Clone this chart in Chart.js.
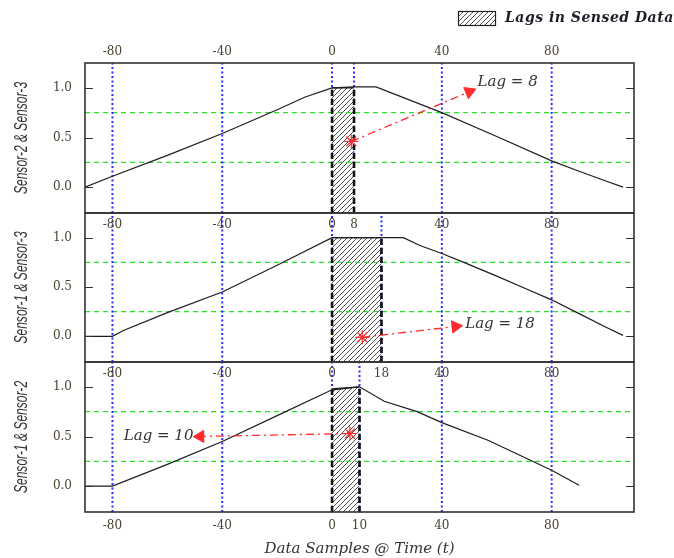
<!DOCTYPE html>
<html>
<head>
<meta charset="utf-8">
<script src="https://cdn.jsdelivr.net/npm/chart.js@4/dist/chart.umd.min.js"></script>
<style>
  html, body { margin: 0; padding: 0; background: #fff; }
  #wrap { position: relative; width: 674px; height: 558px; }
  #wrap canvas { position: absolute; left: 0; top: 0; }
</style>
</head>
<body>
<div id="wrap">
  <canvas id="p1" width="674" height="558"></canvas>
  <canvas id="p2" width="674" height="558"></canvas>
  <canvas id="p3" width="674" height="558"></canvas>
</div>
<script>
// Cross-correlation of sensor pairs against sample offset t
const t23 = [-90, -80, -60, -40, -20, -10, 0, 8, 16, 40, 60, 80, 90, 100, 106];
const r23 = [0.0, 0.11, 0.32, 0.54, 0.78, 0.905, 1.0, 1.01, 1.01, 0.75, 0.51, 0.265, 0.16, 0.06, 0.0];

const t13 = [-90, -80, -76, -60, -40, -20, 0, 18, 26, 32, 40, 48, 60, 70, 80, 90, 100, 106];
const r13 = [0.0, 0.0, 0.06, 0.24, 0.45, 0.72, 1.0, 1.0, 1.0, 0.92, 0.84, 0.75, 0.61, 0.49, 0.37, 0.23, 0.09, 0.01];

const t12 = [-90, -80, -60, -40, -20, 0, 10, 19, 31, 40, 57, 80, 90];
const r12 = [0.0, 0.0, 0.22, 0.45, 0.71, 0.97, 1.0, 0.855, 0.75, 0.64, 0.46, 0.16, 0.01];

const pairNames = ['Sensor-2 & Sensor-3', 'Sensor-1 & Sensor-3', 'Sensor-1 & Sensor-2'];
const lagValues = [8, 18, 10];

// top edge of the lag band (start, end)
const hatchTop23 = [1.0, 1.0];
const hatchTop13 = [1.0, 1.0];
const hatchTop12 = [0.98, 1.0];

// lag pointer: marker point -> arrow head, plus the label anchor
const markFrom23 = [7, 0.46],   markTo23 = [50, 0.96],  labelAt23 = [53, 1.055];
const markFrom13 = [11, -0.01], markTo13 = [45, 0.10],  labelAt13 = [48.5, 0.12];
const markFrom12 = [6.5, 0.53], markTo12 = [-48, 0.50], labelAt12 = [-50.5, 0.505];

const xGridTicks = [-80, -40, 0, 40, 80];
const yTickValues = [0, 0.5, 1.0];
const refLevels = [0.25, 0.75];
const xMin = -90, xMax = 110, yMin = -0.26, yMax = 1.25;

const legendText = 'Lags in Sensed Data';
const xTitle = 'Data Samples @ Time (t)';

const tickFontSpec = { family: "'DejaVu Serif', serif", size: 12 };
const tickColor = '#4a4232';

function pts(xs, ys) { return xs.map((x, i) => ({ x: x, y: ys[i] })); }
function verticals(xs) {
  const out = [];
  xs.forEach(x => out.push({ x: x, y: yMin }, { x: x, y: yMax }, { x: x, y: null }));
  return out;
}
function horizontals(levels) {
  const out = [];
  levels.forEach(v => out.push({ x: xMin, y: v }, { x: xMax, y: v }, { x: xMax, y: null }));
  return out;
}
function makeHatch(ctx) {
  const tile = document.createElement('canvas');
  tile.width = 5; tile.height = 5;
  const g = tile.getContext('2d');
  g.fillStyle = '#ffffff';
  g.fillRect(0, 0, 5, 5);
  g.strokeStyle = '#3a3a3a';
  g.lineWidth = 0.9;
  g.beginPath();
  g.moveTo(0, 5); g.lineTo(5, 0);
  g.moveTo(-1, 1); g.lineTo(1, -1);
  g.moveTo(4, 6); g.lineTo(6, 4);
  g.stroke();
  return ctx.createPattern(tile, 'repeat');
}

// frame, inward tick marks, in-panel tick row, pair title, lag label and legend
const framePlugin = {
  id: 'frame',
  afterDraw(chart, args, o) {
    const ctx = chart.ctx, a = chart.chartArea;
    const xs = chart.scales.x, ys = chart.scales.y;
    ctx.save();
    ctx.strokeStyle = '#333';
    ctx.lineWidth = 1.2;
    ctx.beginPath();
    yTickValues.forEach(v => {
      const py = Math.round(ys.getPixelForValue(v)) + 0.5;
      ctx.moveTo(a.left, py); ctx.lineTo(a.left + 8, py);
      ctx.moveTo(a.right - 8, py); ctx.lineTo(a.right, py);
    });
    ctx.stroke();
    ctx.lineWidth = 1.6;
    ctx.strokeRect(a.left, a.top, a.right - a.left, a.bottom - a.top);

    if (o.innerTicks) {
      ctx.font = tickFontSpec.size + 'px ' + tickFontSpec.family;
      ctx.fillStyle = tickColor;
      ctx.textAlign = 'center';
      ctx.textBaseline = 'middle';
      o.innerTicks.forEach(v => ctx.fillText(String(v), xs.getPixelForValue(v), a.top + 12));
    }

    // condensed, rotated pair title beside the value axis
    ctx.save();
    ctx.translate(22, (a.top + a.bottom) / 2);
    ctx.rotate(-Math.PI / 2);
    ctx.scale(0.67, 1);
    ctx.font = "italic 18px 'Liberation Sans', Arial, sans-serif";
    ctx.fillStyle = '#333';
    ctx.textAlign = 'center';
    ctx.textBaseline = 'middle';
    ctx.fillText(o.title, 0, 0);
    ctx.restore();

    ctx.font = "italic 15px 'DejaVu Serif', serif";
    ctx.fillStyle = '#333';
    ctx.textAlign = o.labelAlign;
    ctx.textBaseline = 'middle';
    ctx.fillText(o.label, xs.getPixelForValue(o.labelAt[0]), ys.getPixelForValue(o.labelAt[1]));

    if (o.legend) {
      ctx.fillStyle = o.hatch;
      ctx.fillRect(458, 11, 38, 14);
      ctx.strokeStyle = '#222';
      ctx.lineWidth = 1.2;
      ctx.strokeRect(458.5, 11.5, 37, 14);
      ctx.font = "italic bold 14px 'DejaVu Serif', serif";
      ctx.letterSpacing = '0.5px';
      ctx.fillStyle = '#1e1e2a';
      ctx.textAlign = 'left';
      ctx.fillText(legendText, 505, 18);
    }
    ctx.restore();
  }
};

function arrowRotation(c) {
  if (c.dataIndex !== 1) return 0;
  const xs = c.chart.scales.x, ys = c.chart.scales.y;
  const d = c.dataset.data;
  const dx = xs.getPixelForValue(d[1].x) - xs.getPixelForValue(d[0].x);
  const dy = ys.getPixelForValue(d[1].y) - ys.getPixelForValue(d[0].y);
  return Math.atan2(dx, -dy) * 180 / Math.PI;
}

function buildPanel(p) {
  const canvas = document.getElementById(p.id);
  const hatch = makeHatch(canvas.getContext('2d'));
  const lag = p.lag;
  const datasets = [
    { // correlation curve
      data: pts(p.t, p.r), borderColor: '#1e1e1e', borderWidth: 1.2, order: 1
    },
    { // lag pointer
      data: [{ x: p.from[0], y: p.from[1] }, { x: p.to[0], y: p.to[1] }],
      borderColor: '#ff2a2a', borderWidth: 1.3, borderDash: [8, 4, 2, 4],
      pointStyle: ['star', 'triangle'], pointRadius: [7, 7],
      pointBorderColor: '#ff2a2a', pointBackgroundColor: '#ff2a2a',
      pointBorderWidth: [1.2, 1], pointRotation: arrowRotation, order: 0
    },
    { // lag band
      data: [{ x: 0, y: p.hatchTop[0] }, { x: lag, y: p.hatchTop[1] }],
      fill: 'start', backgroundColor: hatch, borderColor: '#111', borderWidth: 1.3, order: 6
    },
    { // dashed band edges
      data: [{ x: 0, y: yMin }, { x: 0, y: p.hatchTop[0] }, { x: 0, y: null },
             { x: lag, y: yMin }, { x: lag, y: p.hatchTop[1] }],
      borderColor: '#111', borderWidth: 2.6, borderDash: [6, 3], order: 2
    },
    { // vertical guides
      data: verticals(xGridTicks.concat([lag])),
      borderColor: '#2b2bff', borderWidth: 2, borderDash: [2, 2.5], order: 3
    },
    { // reference levels
      data: horizontals(refLevels),
      borderColor: '#2ee02e', borderWidth: 1.2, borderDash: [5, 4], order: 4
    }
  ];

  const xAxis = {
    type: 'linear', min: xMin, max: xMax,
    display: !!p.xPos, position: p.xPos || 'bottom',
    grid: { display: false, tickLength: 0 }, border: { display: false },
    afterBuildTicks: s => { s.ticks = (p.xTicks || xGridTicks).map(v => ({ value: v })); },
    afterFit: s => { s.height = p.xHeight || 0; },
    ticks: {
      autoSkip: false, maxRotation: 0, padding: p.xPad || 6,
      font: tickFontSpec, color: tickColor, callback: v => String(v)
    },
    title: p.xTitle ? {
      display: true, text: p.xTitle, color: '#333', padding: { top: 0, bottom: 0 },
      font: { family: "'DejaVu Serif', serif", size: 15, style: 'italic' }
    } : { display: false }
  };

  return new Chart(canvas, {
    type: 'line',
    data: { datasets: datasets },
    options: {
      responsive: false, animation: false, devicePixelRatio: 1,
      layout: { padding: { left: 0, right: 40, top: p.padTop, bottom: p.padBottom } },
      elements: { point: { radius: 0 }, line: { tension: 0 } },
      plugins: {
        legend: { display: false }, tooltip: { enabled: false },
        frame: {
          innerTicks: p.innerTicks, label: 'Lag = ' + lag, labelAt: p.labelAt,
          labelAlign: p.labelAlign, legend: !!p.legend, hatch: hatch, title: p.title
        }
      },
      scales: {
        x: xAxis,
        y: {
          type: 'linear', min: yMin, max: yMax, position: 'left',
          grid: { display: false, tickLength: 0 }, border: { display: false },
          afterBuildTicks: s => { s.ticks = yTickValues.map(v => ({ value: v })); },
          afterFit: s => { s.width = 85; },
          ticks: { padding: 13, font: tickFontSpec, color: tickColor, callback: v => Number(v).toFixed(1) },
          title: { display: false }
        }
      }
    },
    plugins: [framePlugin]
  });
}

buildPanel({
  id: 'p1', title: pairNames[0], t: t23, r: r23, lag: lagValues[0], hatchTop: hatchTop23,
  from: markFrom23, to: markTo23, labelAt: labelAt23, labelAlign: 'left',
  padTop: 33, padBottom: 345, xPos: 'top', xHeight: 30, xPad: 4, legend: true
});
buildPanel({
  id: 'p2', title: pairNames[1], t: t13, r: r13, lag: lagValues[1], hatchTop: hatchTop13,
  from: markFrom13, to: markTo13, labelAt: labelAt13, labelAlign: 'left',
  padTop: 213, padBottom: 196, innerTicks: xGridTicks.concat([lagValues[0]])
});
buildPanel({
  id: 'p3', title: pairNames[2], t: t12, r: r12, lag: lagValues[2], hatchTop: hatchTop12,
  from: markFrom12, to: markTo12, labelAt: labelAt12, labelAlign: 'right',
  padTop: 362, padBottom: 0, xPos: 'bottom', xHeight: 46, xPad: 7,
  xTicks: xGridTicks.concat([lagValues[2]]), xTitle: xTitle,
  innerTicks: xGridTicks.concat([lagValues[1]])
});
</script>
</body>
</html>
